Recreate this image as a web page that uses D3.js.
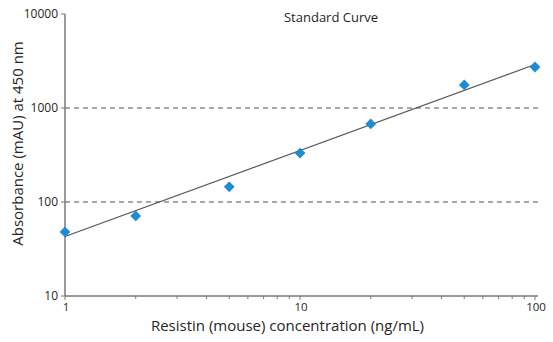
<!DOCTYPE html>
<html>
<head>
<meta charset="utf-8">
<script src="https://cdn.jsdelivr.net/npm/d3@7/dist/d3.min.js"></script>
<style>
  html, body { margin: 0; padding: 0; background: #fff; }
  svg { display: block; font-family: "Open Sans", "Noto Sans", sans-serif; }
</style>
</head>
<body>
<svg id="chart" width="553" height="342"></svg>
<script>
// Standard curve data: concentration (ng/mL) vs absorbance (mAU)
const concentrations = [1, 2, 5, 10, 20, 50, 100];
const absorbance = [48, 71, 145, 332, 676, 1760, 2730];

// Fitted power-law line, given by its two end points
const fitX = [1, 100];
const fitY = [43, 2900];

const xTicks = [1, 10, 100];
const yTicks = [10, 100, 1000, 10000];
const gridValues = [100, 1000];

const title = "Standard Curve";
const xLabel = "Resistin (mouse) concentration (ng/mL)";
const yLabel = "Absorbance (mAU) at 450 nm";

const svg = d3.select("#chart");

const x = d3.scaleLog().domain([1, 100]).range([65, 535]);
const y = d3.scaleLog().domain([10, 10000]).range([296, 14]);

const axisColor = "#7a7a7a";
const textColor = "#262626";

// Dashed horizontal reference lines
svg.append("g").selectAll("line").data(gridValues).join("line")
  .attr("x1", x(1)).attr("x2", 541)
  .attr("y1", d => y(d)).attr("y2", d => y(d))
  .attr("stroke", "#8c8c8c").attr("stroke-width", 1.3)
  .attr("stroke-dasharray", "5,4");

// X axis with minor ticks
const minorX = [];
for (let dec = 1; dec < 100; dec *= 10)
  for (let m = 2; m <= 9; m++) minorX.push(m * dec);

const gx = svg.append("g").attr("transform", `translate(0,${y(10)})`);
gx.append("line").attr("x1", x(1)).attr("x2", 538)
  .attr("stroke", axisColor).attr("stroke-width", 1.5);
gx.selectAll(".minor").data(minorX).join("line")
  .attr("x1", d => x(d)).attr("x2", d => x(d))
  .attr("y1", 0).attr("y2", 3)
  .attr("stroke", axisColor).attr("stroke-width", 1);
gx.selectAll(".major").data(xTicks).join("line")
  .attr("x1", d => x(d)).attr("x2", d => x(d))
  .attr("y1", 0).attr("y2", 4)
  .attr("stroke", axisColor).attr("stroke-width", 1);
gx.selectAll("text").data(xTicks).join("text")
  .attr("x", d => x(d) + 1).attr("y", 14.5)
  .attr("text-anchor", "middle")
  .attr("font-size", 11.5).attr("fill", textColor)
  .text(d => d);

// Y axis
const gy = svg.append("g").attr("transform", `translate(${x(1)},0)`);
gy.append("line").attr("y1", y(10)).attr("y2", y(10000))
  .attr("stroke", axisColor).attr("stroke-width", 1.5);
gy.selectAll(".tick").data(yTicks).join("line")
  .attr("x1", -4).attr("x2", 0)
  .attr("y1", d => y(d)).attr("y2", d => y(d))
  .attr("stroke", axisColor).attr("stroke-width", 1);
gy.selectAll("text").data(yTicks).join("text")
  .attr("x", -7).attr("y", d => y(d) + 4)
  .attr("text-anchor", "end")
  .attr("font-size", 12).attr("fill", textColor)
  .text(d => d);

// Fit line
const line = d3.line().x(d => x(d[0])).y(d => y(d[1]));
svg.append("path")
  .datum(d3.zip(fitX, fitY))
  .attr("d", line)
  .attr("fill", "none").attr("stroke", "#555").attr("stroke-width", 1.2);

// Data points as diamonds
const diamond = d3.symbol().type(d3.symbolDiamond2).size(74);
svg.append("g").selectAll("path").data(d3.zip(concentrations, absorbance)).join("path")
  .attr("transform", d => `translate(${x(d[0])},${y(d[1])})`)
  .attr("d", diamond)
  .attr("fill", "#1f8bd2");

// Titles
svg.append("text").attr("x", 331).attr("y", 22)
  .attr("text-anchor", "middle").attr("font-size", 13).attr("fill", textColor)
  .text(title);

svg.append("text").attr("x", 287.5).attr("y", 330.5)
  .attr("text-anchor", "middle").attr("font-size", 15).attr("fill", textColor)
  .text(xLabel);

svg.append("text")
  .attr("transform", `translate(23,${143.5}) rotate(-90)`)
  .attr("text-anchor", "middle").attr("font-size", 15).attr("fill", textColor)
  .text(yLabel);
</script>
</body>
</html>
